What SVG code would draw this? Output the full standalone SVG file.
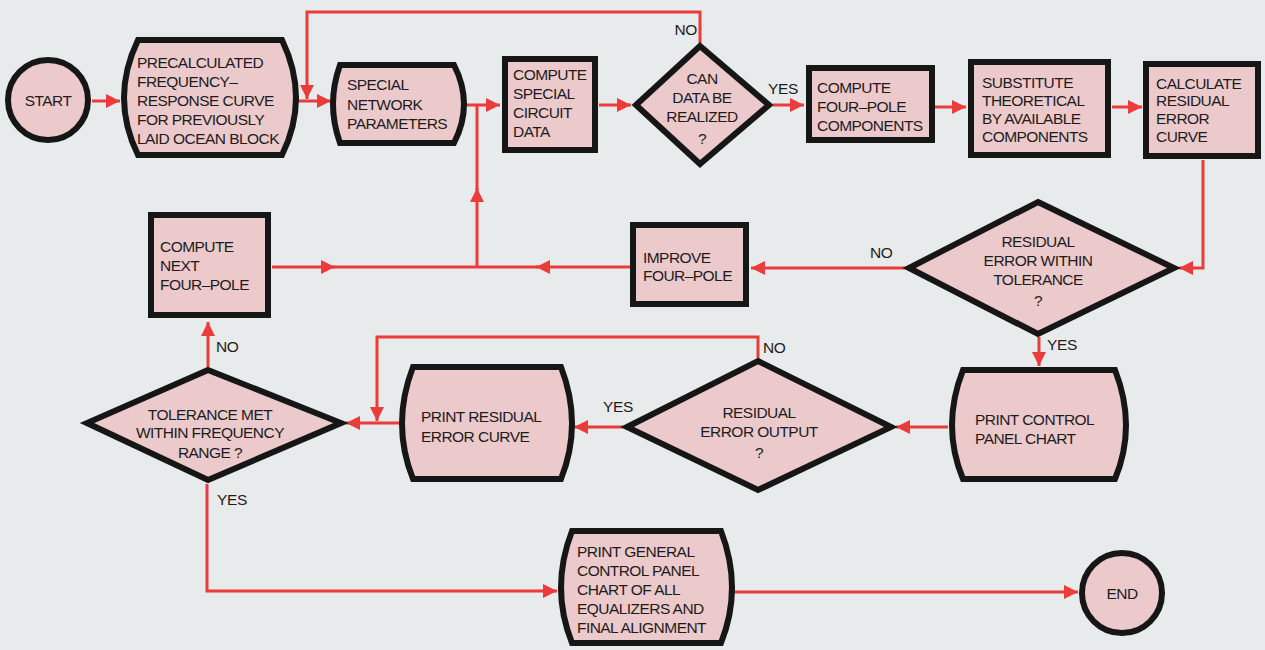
<svg xmlns="http://www.w3.org/2000/svg" width="1265" height="650" viewBox="0 0 1265 650">
<defs>
<marker id="ah" markerUnits="userSpaceOnUse" markerWidth="16" markerHeight="14" refX="14" refY="7" orient="auto">
<path d="M0,0 L14,7 L0,14 Z" fill="#ec3b3b"/>
</marker>
</defs>
<style>
.n{fill:#ecc9cb;stroke:#161616;stroke-width:6;stroke-linejoin:miter}
.t{font-family:"Liberation Sans",Arial,sans-serif;font-size:15.5px;letter-spacing:-0.55px;fill:#1c1c1c}
.c{text-anchor:middle}
.l{font-family:"Liberation Sans",Arial,sans-serif;font-size:15.5px;letter-spacing:-0.4px;fill:#1c1c1c}
.e{fill:none;stroke:#ec3b3b;stroke-width:3}
.a{marker-end:url(#ah)}
</style>
<rect width="1265" height="650" fill="#e8ebeb"/>

<g id="connectors">
<path class="e a" d="M92,101 L120,101"/>
<path class="e a" d="M297,101 L331,101"/>
<path class="e a" d="M700,43 L700,12 L307,12 L307,99"/>
<path class="e a" d="M467,105 L500,105"/>
<path class="e a" d="M477,267 L477,188"/>
<path class="e" d="M477,190 L477,105"/>
<path class="e a" d="M599,105 L631,105"/>
<path class="e a" d="M773,105 L804,105"/>
<path class="e a" d="M935,107 L966,107"/>
<path class="e a" d="M1112,107 L1142,107"/>
<path class="e a" d="M1203,160 L1203,268 L1179,268"/>
<path class="e a" d="M905,268 L751,268"/>
<path class="e a" d="M630,267 L536,267"/>
<path class="e" d="M538,267 L477,267"/>
<path class="e a" d="M272,267 L335,267"/>
<path class="e" d="M333,267 L477,267"/>
<path class="e a" d="M1039,337 L1039,366"/>
<path class="e a" d="M948,427 L896,427"/>
<path class="e a" d="M623,427 L574,427"/>
<path class="e a" d="M758,358 L758,337 L377,337 L377,421"/>
<path class="e a" d="M399,423 L346,423"/>
<path class="e a" d="M208,367 L208,322"/>
<path class="e a" d="M207,484 L207,591 L557,591"/>
<path class="e a" d="M734,592 L1078,592"/>
<text class="l" x="697" y="35" text-anchor="end">NO</text>
<text class="l" x="768" y="94">YES</text>
<text class="l" x="870" y="258">NO</text>
<text class="l" x="1047" y="350">YES</text>
<text class="l" x="216" y="352">NO</text>
<text class="l" x="763" y="353">NO</text>
<text class="l" x="603" y="412">YES</text>
<text class="l" x="217" y="505">YES</text>
</g>

<g id="start">
<circle class="n" cx="48" cy="100" r="40"/>
<text class="t c" x="48" y="106">START</text>
</g>

<g id="precalc">
<path class="n" d="M138,40 L282,40 Q310,98 282,155 L138,155 Q110,98 138,40 Z"/>
<text class="t" x="137" y="68">PRECALCULATED</text>
<text class="t" x="137" y="87">FREQUENCY–</text>
<text class="t" x="137" y="106">RESPONSE CURVE</text>
<text class="t" x="137" y="125">FOR PREVIOUSLY</text>
<text class="t" x="137" y="144">LAID OCEAN BLOCK</text>
</g>

<g id="special-network">
<path class="n" d="M340,65 L454,65 Q474,104 454,143 L340,143 Q326,104 340,65 Z"/>
<text class="t" x="347" y="90">SPECIAL</text>
<text class="t" x="347" y="110">NETWORK</text>
<text class="t" x="347" y="129">PARAMETERS</text>
</g>

<g id="compute-special">
<rect class="n" x="505" y="59" width="90" height="91"/>
<text class="t" x="513" y="80">COMPUTE</text>
<text class="t" x="513" y="99">SPECIAL</text>
<text class="t" x="513" y="118">CIRCUIT</text>
<text class="t" x="513" y="137">DATA</text>
</g>

<g id="can-data">
<path class="n" d="M700,46 L769,105 L700,164 L636,105 Z"/>
<text class="t c" x="702" y="84">CAN</text>
<text class="t c" x="702" y="103">DATA BE</text>
<text class="t c" x="702" y="122">REALIZED</text>
<text class="t c" x="702" y="144">?</text>
</g>

<g id="compute-fourpole">
<rect class="n" x="809" y="68" width="123" height="72"/>
<text class="t" x="817" y="93">COMPUTE</text>
<text class="t" x="817" y="112">FOUR–POLE</text>
<text class="t" x="817" y="131">COMPONENTS</text>
</g>

<g id="substitute">
<rect class="n" x="971" y="62" width="137" height="93"/>
<text class="t" x="982" y="88">SUBSTITUTE</text>
<text class="t" x="982" y="106">THEORETICAL</text>
<text class="t" x="982" y="124">BY AVAILABLE</text>
<text class="t" x="982" y="142">COMPONENTS</text>
</g>

<g id="calculate">
<rect class="n" x="1146" y="64" width="112" height="92"/>
<text class="t" x="1156" y="89">CALCULATE</text>
<text class="t" x="1156" y="106">RESIDUAL</text>
<text class="t" x="1156" y="124">ERROR</text>
<text class="t" x="1156" y="142">CURVE</text>
</g>

<g id="within-tolerance">
<path class="n" d="M1038,202 L1174,268 L1038,334 L909,268 Z"/>
<text class="t c" x="1038" y="247">RESIDUAL</text>
<text class="t c" x="1038" y="266">ERROR WITHIN</text>
<text class="t c" x="1038" y="285">TOLERANCE</text>
<text class="t c" x="1038" y="306">?</text>
</g>

<g id="improve">
<rect class="n" x="633" y="225" width="113" height="79"/>
<text class="t" x="643" y="263">IMPROVE</text>
<text class="t" x="643" y="281">FOUR–POLE</text>
</g>

<g id="compute-next">
<rect class="n" x="151" y="215" width="117" height="100"/>
<text class="t" x="160" y="252">COMPUTE</text>
<text class="t" x="160" y="271">NEXT</text>
<text class="t" x="160" y="290">FOUR–POLE</text>
</g>

<g id="tolerance-met">
<path class="n" d="M208,370 L341,423 L208,480 L87,423 Z"/>
<text class="t c" x="210" y="420">TOLERANCE MET</text>
<text class="t c" x="210" y="438">WITHIN FREQUENCY</text>
<text class="t c" x="210" y="458">RANGE ?</text>
</g>

<g id="print-residual">
<path class="n" d="M413,367 L561,367 Q583,424 561,479 L413,479 Q391,424 413,367 Z"/>
<text class="t" x="421" y="422">PRINT RESIDUAL</text>
<text class="t" x="421" y="442">ERROR CURVE</text>
</g>

<g id="error-output">
<path class="n" d="M758,361 L891,427 L758,490 L627,427 Z"/>
<text class="t c" x="759" y="418">RESIDUAL</text>
<text class="t c" x="759" y="437">ERROR OUTPUT</text>
<text class="t c" x="759" y="458">?</text>
</g>

<g id="print-control">
<path class="n" d="M963,370 L1115,370 Q1137,426 1115,479 L963,479 Q941,426 963,370 Z"/>
<text class="t" x="975" y="425">PRINT CONTROL</text>
<text class="t" x="975" y="444">PANEL CHART</text>
</g>

<g id="print-general">
<path class="n" d="M572,531 L721,531 Q743,588 721,643 L572,643 Q550,588 572,531 Z"/>
<text class="t" x="577" y="557">PRINT GENERAL</text>
<text class="t" x="577" y="576">CONTROL PANEL</text>
<text class="t" x="577" y="595">CHART OF ALL</text>
<text class="t" x="577" y="614">EQUALIZERS AND</text>
<text class="t" x="577" y="633">FINAL ALIGNMENT</text>
</g>

<g id="end">
<circle class="n" cx="1122" cy="593" r="40"/>
<text class="t c" x="1122" y="599">END</text>
</g>
</svg>
